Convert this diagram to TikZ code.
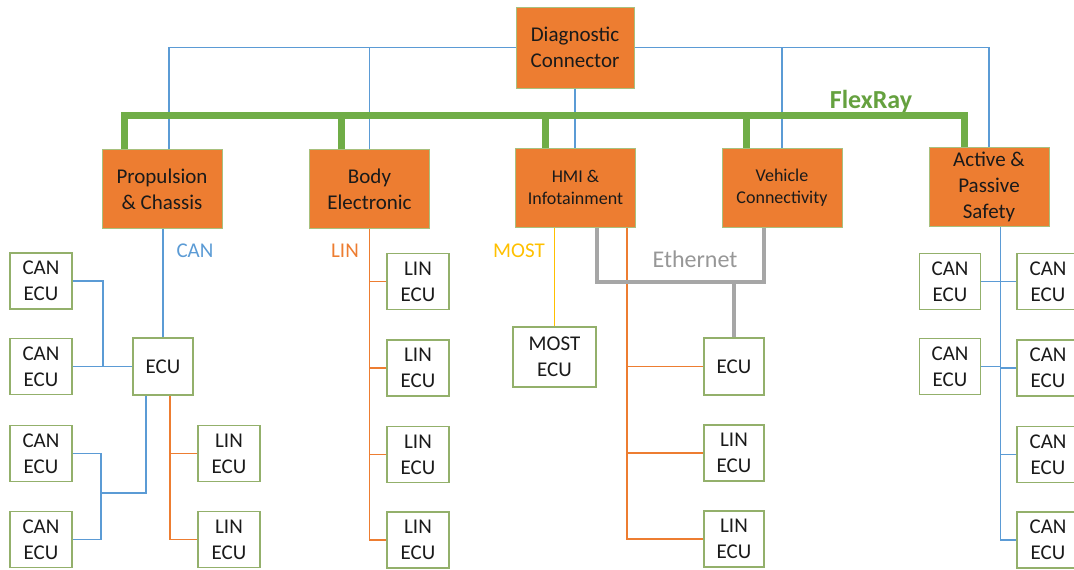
\documentclass[tikz,border=0pt]{standalone}
\usepackage{fontspec}
\setmainfont{Carlito}
\definecolor{canblue}{HTML}{5B9BD5}
\definecolor{linorange}{HTML}{ED7D31}
\definecolor{mostyellow}{HTML}{FFC000}
\definecolor{frgreen}{HTML}{70AD47}
\definecolor{frtext}{HTML}{65A13F}
\definecolor{ethgray}{HTML}{A6A6A6}
\definecolor{ethtext}{HTML}{979797}
\definecolor{ecuborder}{HTML}{93B06B}
\definecolor{mainborder}{HTML}{A8C07E}
\definecolor{txt}{HTML}{1A1A1A}
\tikzset{
  mainbox/.style={draw=mainborder, line width=1pt, fill=linorange, text=txt,
    minimum width=120pt, minimum height=79pt, inner sep=0pt, align=center,
    font=\fontsize{21}{26}\selectfont},
  mainboxsmall/.style={mainbox, font=\fontsize{18}{22}\selectfont},
  ecubox/.style={draw=ecuborder, line width=1.2pt, fill=white, text=txt,
    minimum width=62pt, minimum height=56pt, inner sep=0pt, align=center,
    font=\fontsize{21}{26}\selectfont},
  canline/.style={draw=canblue, line width=1.2pt},
  linline/.style={draw=linorange, line width=1.2pt},
  mostline/.style={draw=mostyellow, line width=1.2pt},
  flexline/.style={draw=frgreen, line width=7pt, line join=miter},
  ethline/.style={draw=ethgray, line width=4.5pt, line join=miter},
  buslabel/.style={inner sep=0pt, font=\fontsize{21}{26}\selectfont},
}
\begin{document}
\begin{tikzpicture}[x=1pt,y=-1pt]
\useasboundingbox (0,0) rectangle (1074,570);
\clip (0,0) rectangle (1074,570);

% main boxes
\node[mainbox, minimum width=118pt, minimum height=81pt] (diag) at (575,47.5) {Diagnostic\\Connector};
\node[mainbox] (prop) at (162,189) {Propulsion\\\& Chassis};
\node[mainbox] (body) at (369.5,189) {Body\\Electronic};
\node[mainboxsmall] (hmi) at (575.5,187.5) {HMI \&\\Infotainment};
\node[mainboxsmall] (veh) at (782,188) {Vehicle\\Connectivity};
\node[mainbox] (act) at (989,186.5) {Active \&\\Passive\\Safety};

% bus labels
\node[buslabel, text=frtext, font=\bfseries\fontsize{26}{30}\selectfont] (lfr) at (871,101) {FlexRay};
\node[buslabel, text=canblue] (lcan) at (195,251) {CAN};
\node[buslabel, text=linorange] (llin) at (345,251) {LIN};
\node[buslabel, text=mostyellow] (lmost) at (519,251) {MOST};
\node[buslabel, text=ethtext, font=\fontsize{24}{28}\selectfont] (leth) at (695,259) {Ethernet};

% left CAN group
\node[ecubox, minimum width=60pt, minimum height=57pt] (pecu) at (163,366.5) {ECU};
\node[ecubox] (c1) at (41,281) {CAN\\ECU};
\node[ecubox] (c2) at (41,366.5) {CAN\\ECU};
\node[ecubox] (c3) at (41,453.5) {CAN\\ECU};
\node[ecubox] (c4) at (41,539.5) {CAN\\ECU};
\node[ecubox] (l1) at (229,453.5) {LIN\\ECU};
\node[ecubox] (l2) at (229,539.5) {LIN\\ECU};

% body LIN group
\node[ecubox] (b1) at (418,281.5) {LIN\\ECU};
\node[ecubox] (b2) at (418,368) {LIN\\ECU};
\node[ecubox] (b3) at (418,454.5) {LIN\\ECU};
\node[ecubox] (b4) at (418,540) {LIN\\ECU};

% HMI group
\node[ecubox, minimum width=83pt, minimum height=60pt] (m1) at (554.5,357) {MOST\\ECU};
\node[ecubox, minimum width=60pt, minimum height=57pt] (h1) at (734,366.5) {ECU};
\node[ecubox, minimum width=60pt] (h2) at (734,453) {LIN\\ECU};
\node[ecubox, minimum width=60pt] (h3) at (734,539) {LIN\\ECU};

% safety group
\node[ecubox, minimum width=61pt] (r1) at (950,281.5) {CAN\\ECU};
\node[ecubox, minimum width=61pt] (r2) at (950,366.5) {CAN\\ECU};
\node[ecubox] (s1) at (1048,281.5) {CAN\\ECU};
\node[ecubox] (s2) at (1048,368) {CAN\\ECU};
\node[ecubox] (s3) at (1048,454.5) {CAN\\ECU};
\node[ecubox] (s4) at (1048,540) {CAN\\ECU};

% diagnostic CAN connections
\draw[canline] (diag.west) -| ([xshift=7pt]prop.north);
\draw[canline] (body.north) -- (body.north |- diag.west);
\draw[canline] (diag.east) -| (act.north);
\draw[canline] (veh.north) -- (veh.north |- diag.east);
\draw[canline] (diag.south) -- (diag.south |- hmi.north);

% FlexRay
\coordinate (fr1) at (124,115);
\coordinate (fr2) at (341,115);
\coordinate (fr3) at (545,115);
\coordinate (fr4) at (746,115);
\coordinate (fr5) at (964,115);
\draw[flexline] (prop.north -| fr1) -- (fr1) -- (fr5) -- (act.north -| fr5);
\draw[flexline] (fr2) -- (body.north -| fr2);
\draw[flexline] (fr3) -- (hmi.north -| fr3);
\draw[flexline] (fr4) -- (veh.north -| fr4);

% left CAN
\draw[canline] (prop.south -| pecu.north) -- (pecu.north);
\coordinate (j1) at (103,366.5);
\draw[canline] (c1.east) -| (j1);
\draw[canline] (c2.east) -- (pecu.west);
\coordinate (j2) at (101,493);
\draw[canline] ([xshift=-17pt]pecu.south) |- (j2);
\draw[canline] (c3.east) -| (j2) |- (c4.east);
\coordinate (jl) at ([xshift=7pt]pecu.south);
\draw[linline] (jl) |- (l2.west);
\draw[linline] (l1.west) -- (l1.west -| jl);

% body LIN
\draw[linline] (body.south) |- (b4.west);
\draw[linline] (b1.west) -- (b1.west -| body.south);
\draw[linline] (b2.west) -- (b2.west -| body.south);
\draw[linline] (b3.west) -- (b3.west -| body.south);

% MOST
\draw[mostline] (m1.north |- hmi.south) -- (m1.north);

% HMI LIN
\coordinate (hl) at ([xshift=51.5pt]hmi.south);
\draw[linline] (hl) |- (h3.west);
\draw[linline] (h1.west) -- (h1.west -| hl);
\draw[linline] (h2.west) -- (h2.west -| hl);

% Ethernet
\coordinate (e1) at (597,282);
\coordinate (e2) at (764,282);
\coordinate (e3) at (h1.north |- e1);
\draw[ethline] (hmi.south -| e1) -- (e1) -- (e2) -- (veh.south -| e2);
\draw[ethline] (e3) -- (h1.north);

% safety CAN
\coordinate (ab) at ([xshift=11.5pt]act.south);
\draw[canline] (ab) |- (s4.west);
\draw[canline] (r1.east) -- (s1.west);
\draw[canline] (r2.east) -- (r2.east -| ab);
\draw[canline] (s2.west) -- (s2.west -| ab);
\draw[canline] (s3.west) -- (s3.west -| ab);
\end{tikzpicture}
\end{document}
